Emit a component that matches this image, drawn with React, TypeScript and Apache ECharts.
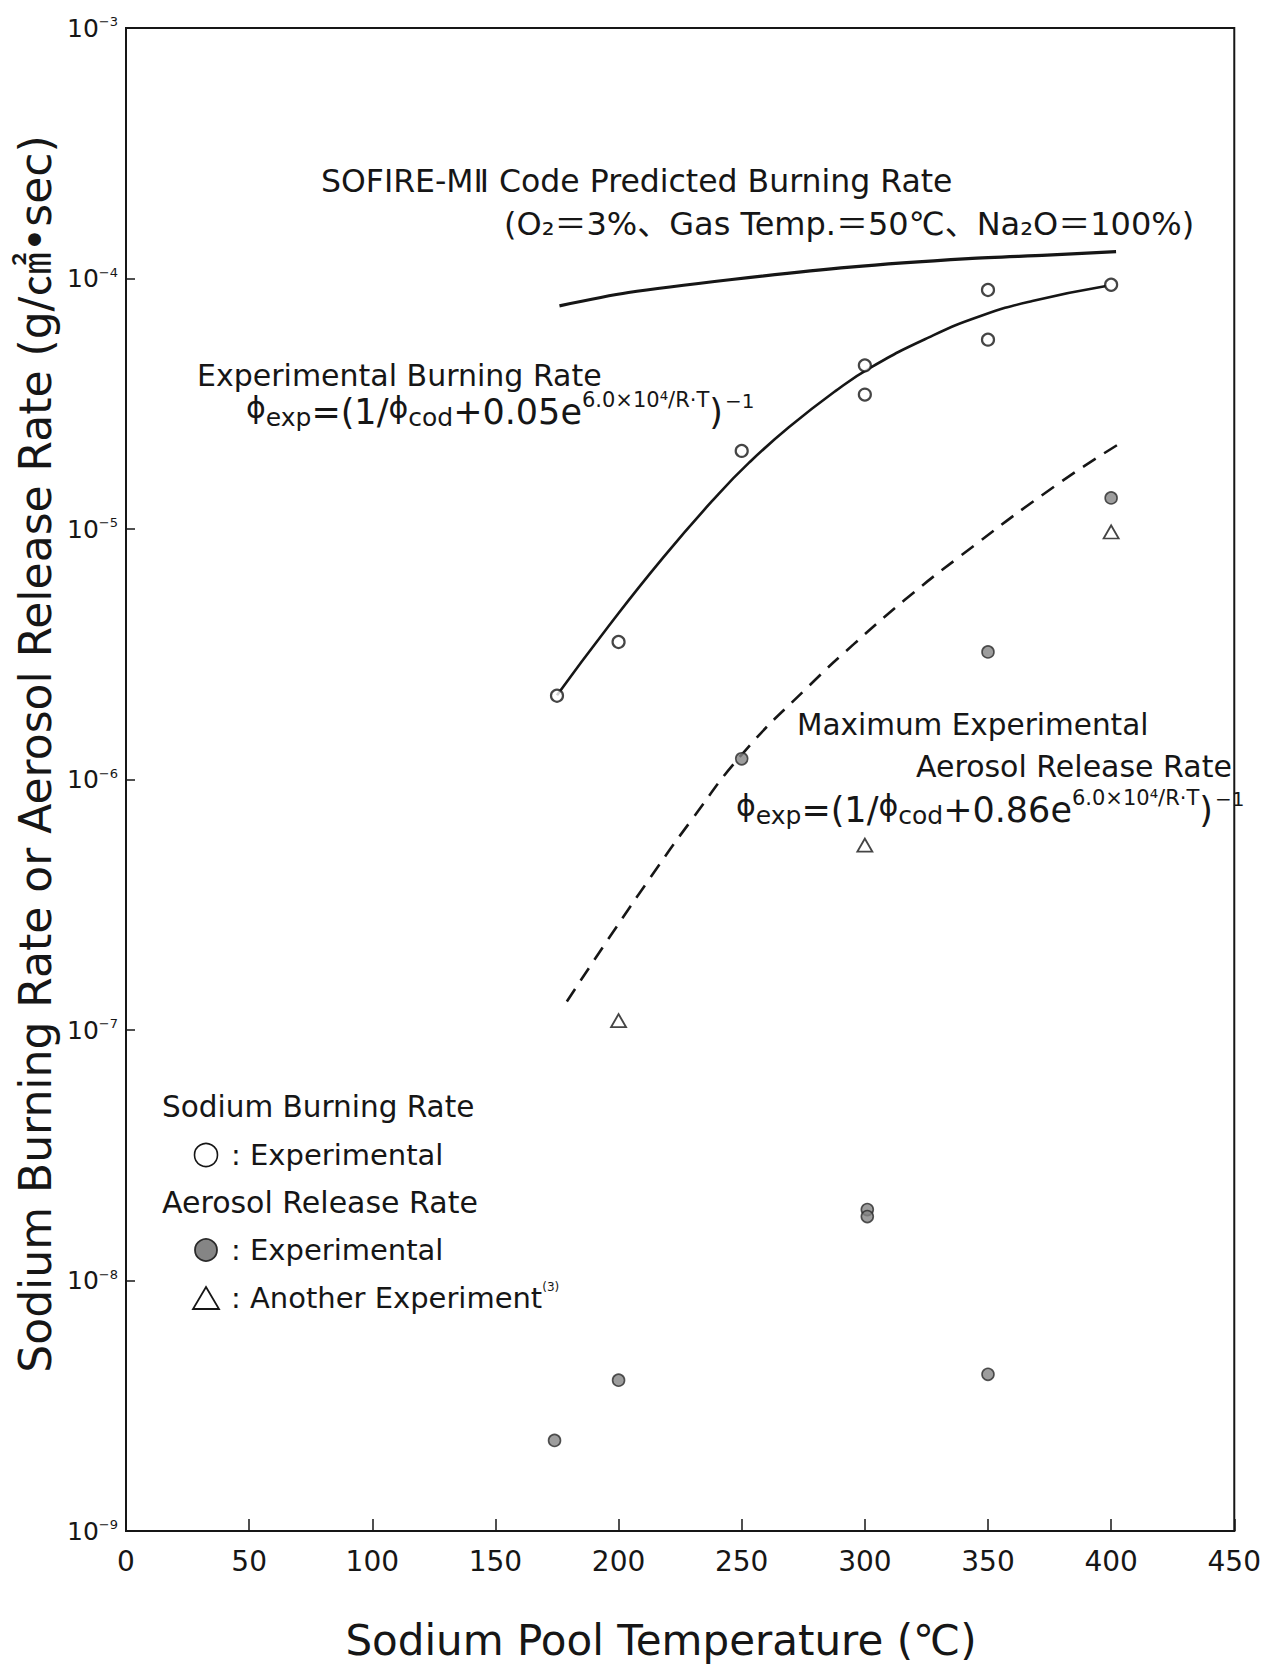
import React, { useEffect, useRef } from "react";
import * as echarts from "echarts";

const W = 1264;
const H = 1665;
const FONT = '"DejaVu Sans", "Noto Sans CJK JP", sans-serif';
const INK = "#161616";

// ---- data ----
const xTicks = [0, 50, 100, 150, 200, 250, 300, 350, 400, 450];
const yExponents = [-9, -8, -7, -6, -5, -4, -3];

// SOFIRE-MII code predicted burning rate
const sofireT = [176, 204, 246, 294, 342, 374, 402];
const sofireV = [7.78e-5, 8.79e-5, 9.91e-5, 1.11e-4, 1.2e-4, 1.24e-4, 1.28e-4];

// Experimental burning-rate correlation (solid curve)
const expCurveT = [175, 195, 218, 240, 253, 269, 288, 302.5, 326, 347, 368, 398];
const expCurveV = [2.17e-6, 3.98e-6, 7.67e-6, 1.36e-5, 1.84e-5, 2.54e-5, 3.55e-5, 4.42e-5, 5.82e-5, 7.08e-5, 8.13e-5, 9.33e-5];

// Maximum experimental aerosol release rate (dashed curve)
const aeroCurveT = [179, 197, 213, 229, 251, 278, 295.5, 316, 338.5, 377, 404];
const aeroCurveV = [1.3e-7, 2.4e-7, 4.07e-7, 6.76e-7, 1.29e-6, 2.4e-6, 3.47e-6, 5.19e-6, 7.76e-6, 1.48e-5, 2.21e-5];

// Sodium burning rate, experimental (open circles)
const burnT = [175, 200, 250, 300, 300, 350, 350, 400];
const burnV = [2.16e-6, 3.54e-6, 2.05e-5, 4.5e-5, 3.44e-5, 9.0e-5, 5.7e-5, 9.44e-5];

// Aerosol release rate, experimental (filled circles)
const aeroT = [174, 200, 250, 301, 301, 350, 350, 400];
const aeroV = [2.3e-9, 4.0e-9, 1.21e-6, 1.92e-8, 1.8e-8, 4.22e-9, 3.23e-6, 1.33e-5];

// Aerosol release rate, another experiment (triangles)
const otherT = [200, 300, 400];
const otherV = [1.09e-7, 5.47e-7, 9.73e-6];

const pairs = (t: number[], v: number[]) => t.map((x, i) => [x, v[i]]);

const txt = (x: number, y: number, text: string, size: number, extra: any = {}) => ({
  type: "text",
  x,
  y,
  silent: true,
  style: {
    text,
    fontSize: size,
    fontFamily: FONT,
    fill: INK,
    align: "left",
    verticalAlign: "middle",
    ...extra,
  },
});

const formulaRich = {
  p: { fontSize: 30, fontFamily: FONT, color: INK, verticalAlign: "top", padding: [4, 0, 0, 0] },
  m: { fontSize: 35, fontFamily: FONT, color: INK, lineHeight: 46, verticalAlign: "middle" },
  sb: { fontSize: 25, fontFamily: FONT, color: INK, verticalAlign: "top", padding: [16, 0, 0, 0] },
  sp: { fontSize: 21, fontFamily: FONT, color: INK, lineHeight: 21, verticalAlign: "top" },
  sp2: { fontSize: 20, fontFamily: FONT, color: INK, verticalAlign: "top", padding: [2, 0, 0, 2] },
};

const formula = (x: number, yTop: number, coef: string) => ({
  type: "text",
  x,
  y: yTop,
  silent: true,
  style: {
    text: `{p|ϕ}{sb|exp}{m|=(1/}{p|ϕ}{sb|cod}{m|+${coef}e}{sp|6.0×10⁴/R·T}{m|)}{sp2|−1}`,
    rich: formulaRich,
    fill: INK,
    fontFamily: FONT,
    align: "left",
    verticalAlign: "top",
  },
});

export default function App() {
  const ref = useRef<HTMLDivElement>(null);

  useEffect(() => {
    if (!ref.current) return;
    const chart = echarts.init(ref.current, null, { renderer: "svg" });

    const option: any = {
      animation: false,
      backgroundColor: "#fff",
      textStyle: { fontFamily: FONT },
      grid: {
        left: 126,
        right: 25,
        top: 28,
        bottom: 134,
        show: true,
        borderColor: INK,
        borderWidth: 2,
        backgroundColor: "transparent",
      },
      xAxis: {
        type: "value",
        min: 0,
        max: 450,
        interval: 50,
        axisLine: { show: true, lineStyle: { color: INK, width: 2 } },
        axisTick: { show: true, inside: true, length: 12, lineStyle: { color: INK, width: 1.5 } },
        axisLabel: {
          color: INK,
          fontSize: 28,
          fontFamily: FONT,
          margin: 16,
          formatter: (v: number) => (xTicks.includes(v) ? String(v) : ""),
        },
        splitLine: { show: false },
      },
      yAxis: {
        type: "log",
        logBase: 10,
        min: Math.pow(10, yExponents[0]),
        max: Math.pow(10, yExponents[yExponents.length - 1]),
        axisLine: { show: true, lineStyle: { color: INK, width: 2 } },
        axisTick: { show: true, inside: true, length: 9, lineStyle: { color: INK, width: 1.5 } },
        axisLabel: {
          color: INK,
          margin: 8,
          formatter: (v: number) => {
            const e = Math.round(Math.log10(v));
            return "{b|10}{s|" + (e < 0 ? "−" : "") + Math.abs(e) + "}";
          },
          rich: {
            b: { fontSize: 25, fontFamily: FONT, color: INK, lineHeight: 26 },
            s: { fontSize: 13, fontFamily: FONT, color: INK, lineHeight: 13, verticalAlign: "top" },
          },
        },
        splitLine: { show: false },
        minorTick: { show: false },
      },
      series: [
        {
          name: "SOFIRE-MII Code Predicted Burning Rate",
          type: "line",
          data: pairs(sofireT, sofireV),
          smooth: 0.3,
          showSymbol: false,
          symbol: "none",
          lineStyle: { color: INK, width: 3.2 },
          z: 3,
        },
        {
          name: "Experimental Burning Rate",
          type: "line",
          data: pairs(expCurveT, expCurveV),
          smooth: 0.5,
          showSymbol: false,
          symbol: "none",
          lineStyle: { color: INK, width: 2.6 },
          z: 3,
        },
        {
          name: "Maximum Experimental Aerosol Release Rate",
          type: "line",
          data: pairs(aeroCurveT, aeroCurveV),
          smooth: 0.5,
          showSymbol: false,
          symbol: "none",
          lineStyle: { color: INK, width: 2.6, type: [15, 10] },
          z: 3,
        },
        {
          name: "Sodium Burning Rate: Experimental",
          type: "scatter",
          data: pairs(burnT, burnV),
          symbol: "circle",
          symbolSize: 12,
          itemStyle: { color: "#fff", borderColor: INK, borderWidth: 2.2 },
          z: 5,
        },
        {
          name: "Aerosol Release Rate: Experimental",
          type: "scatter",
          data: pairs(aeroT, aeroV),
          symbol: "circle",
          symbolSize: 12,
          itemStyle: { color: "#858585", borderColor: "#2a2a2a", borderWidth: 1.6 },
          z: 5,
        },
        {
          name: "Aerosol Release Rate: Another Experiment",
          type: "scatter",
          data: pairs(otherT, otherV),
          symbol: "triangle",
          symbolSize: [15, 13],
          itemStyle: { color: "#fff", borderColor: INK, borderWidth: 1.8 },
          z: 5,
        },
      ],
      graphic: [
        // axis titles
        txt(661, 1640, "Sodium Pool Temperature (℃)", 42, { align: "center" }),
        {
          type: "text",
          x: 35,
          y: 754,
          rotation: Math.PI / 2,
          silent: true,
          style: {
            text: "Sodium Burning Rate or Aerosol Release Rate (g/㎠•sec)",
            fontSize: 44,
            fontFamily: FONT,
            fill: INK,
            align: "center",
            verticalAlign: "middle",
          },
        },
        // annotations
        txt(321, 181, "SOFIRE-MⅡ Code Predicted Burning Rate", 31.5),
        txt(504, 224, "(O₂＝3%、Gas Temp.＝50℃、Na₂O＝100%)", 32),
        txt(197, 375, "Experimental Burning Rate", 30),
        formula(246, 389, "0.05"),
        txt(797, 725, "Maximum Experimental", 29.5),
        txt(916, 766, "Aerosol Release Rate", 30),
        formula(736, 787, "0.86"),
        // legend
        txt(162, 1107, "Sodium Burning Rate", 29.5),
        {
          type: "circle",
          silent: true,
          shape: { cx: 206, cy: 1155, r: 11.5 },
          style: { fill: "#fff", stroke: INK, lineWidth: 1.6 },
        },
        txt(231, 1155, ": Experimental", 29),
        txt(162, 1202, "Aerosol Release Rate", 30),
        {
          type: "circle",
          silent: true,
          shape: { cx: 206, cy: 1250, r: 11 },
          style: { fill: "#858585", stroke: "#2a2a2a", lineWidth: 1.8 },
        },
        txt(231, 1250, ": Experimental", 29),
        {
          type: "polygon",
          silent: true,
          shape: { points: [[206, 1287], [219, 1309], [193, 1309]] },
          style: { fill: "#fff", stroke: INK, lineWidth: 1.8 },
        },
        {
          type: "text",
          x: 231,
          y: 1298,
          silent: true,
          style: {
            text: "{m|: Another Experiment}{s|(3)}",
            fill: INK,
            fontFamily: FONT,
            align: "left",
            verticalAlign: "middle",
            rich: {
              m: { fontSize: 29, fontFamily: FONT, color: INK, lineHeight: 34 },
              s: { fontSize: 12, fontFamily: FONT, color: INK, lineHeight: 12, verticalAlign: "top" },
            },
          },
        },
      ],
    };

    chart.setOption(option);
    return () => chart.dispose();
  }, []);

  return (
    <div
      ref={ref}
      style={{ position: "absolute", left: 0, top: 0, width: W, height: H, background: "#fff" }}
    />
  );
}
